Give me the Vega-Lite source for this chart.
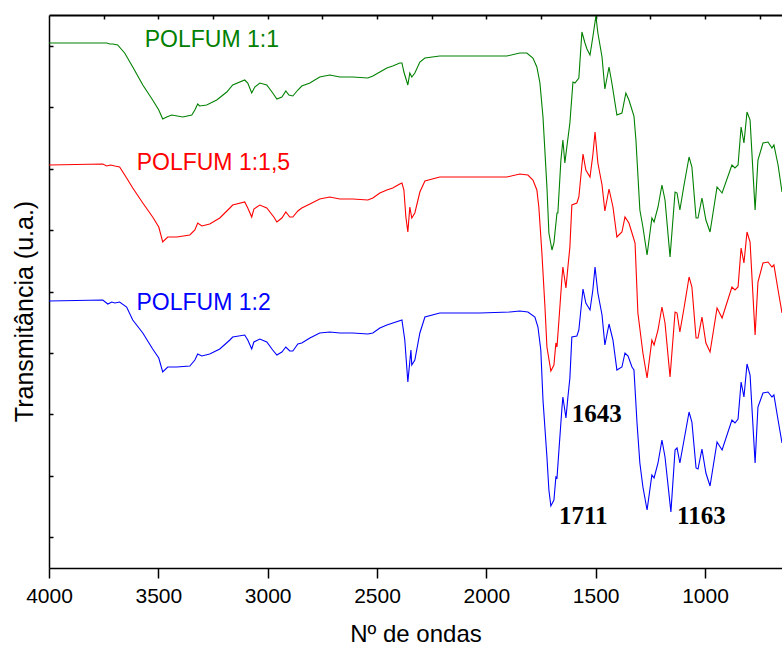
{
  "$schema": "https://vega.github.io/schema/vega-lite/v6.json",
  "width": 733,
  "height": 553,
  "autosize": "none",
  "padding": {"left": 49, "top": 15, "right": 0, "bottom": 79},
  "background": "white",
  "config": {
    "view": {"stroke": null},
    "font": "Liberation Sans",
    "axis": {"domainColor": "black", "tickColor": "black", "labelColor": "black", "titleColor": "black", "grid": false, "domainWidth": 1.5, "tickWidth": 1.5}
  },
  "datasets": {
    "spectra": [
      {"s":"POLFUM 1:1","w":4000,"t":525},{"s":"POLFUM 1:1","w":3754,"t":525},{"s":"POLFUM 1:1","w":3736,"t":525},{"s":"POLFUM 1:1","w":3722,"t":524},{"s":"POLFUM 1:1","w":3709,"t":524},{"s":"POLFUM 1:1","w":3686,"t":523},{"s":"POLFUM 1:1","w":3654,"t":515},{"s":"POLFUM 1:1","w":3617,"t":501},{"s":"POLFUM 1:1","w":3571,"t":483},{"s":"POLFUM 1:1","w":3526,"t":468},{"s":"POLFUM 1:1","w":3498,"t":458},{"s":"POLFUM 1:1","w":3480,"t":449},{"s":"POLFUM 1:1","w":3462,"t":451},{"s":"POLFUM 1:1","w":3439,"t":453},{"s":"POLFUM 1:1","w":3388,"t":451},{"s":"POLFUM 1:1","w":3347,"t":453},{"s":"POLFUM 1:1","w":3333,"t":458},{"s":"POLFUM 1:1","w":3320,"t":464},{"s":"POLFUM 1:1","w":3311,"t":462},{"s":"POLFUM 1:1","w":3279,"t":463},{"s":"POLFUM 1:1","w":3233,"t":468},{"s":"POLFUM 1:1","w":3187,"t":476},{"s":"POLFUM 1:1","w":3160,"t":483},{"s":"POLFUM 1:1","w":3105,"t":488},{"s":"POLFUM 1:1","w":3091,"t":485},{"s":"POLFUM 1:1","w":3073,"t":475},{"s":"POLFUM 1:1","w":3059,"t":481},{"s":"POLFUM 1:1","w":3036,"t":485},{"s":"POLFUM 1:1","w":3004,"t":483},{"s":"POLFUM 1:1","w":2977,"t":475},{"s":"POLFUM 1:1","w":2958,"t":469},{"s":"POLFUM 1:1","w":2935,"t":471},{"s":"POLFUM 1:1","w":2917,"t":477},{"s":"POLFUM 1:1","w":2903,"t":473},{"s":"POLFUM 1:1","w":2885,"t":472},{"s":"POLFUM 1:1","w":2862,"t":478},{"s":"POLFUM 1:1","w":2844,"t":482},{"s":"POLFUM 1:1","w":2807,"t":485},{"s":"POLFUM 1:1","w":2762,"t":491},{"s":"POLFUM 1:1","w":2716,"t":493},{"s":"POLFUM 1:1","w":2670,"t":491},{"s":"POLFUM 1:1","w":2611,"t":491},{"s":"POLFUM 1:1","w":2542,"t":490},{"s":"POLFUM 1:1","w":2519,"t":492},{"s":"POLFUM 1:1","w":2487,"t":496},{"s":"POLFUM 1:1","w":2455,"t":500},{"s":"POLFUM 1:1","w":2428,"t":502},{"s":"POLFUM 1:1","w":2396,"t":505},{"s":"POLFUM 1:1","w":2386,"t":505},{"s":"POLFUM 1:1","w":2377,"t":496},{"s":"POLFUM 1:1","w":2359,"t":483},{"s":"POLFUM 1:1","w":2350,"t":495},{"s":"POLFUM 1:1","w":2341,"t":491},{"s":"POLFUM 1:1","w":2327,"t":495},{"s":"POLFUM 1:1","w":2304,"t":506},{"s":"POLFUM 1:1","w":2281,"t":510},{"s":"POLFUM 1:1","w":2213,"t":512},{"s":"POLFUM 1:1","w":2030,"t":512},{"s":"POLFUM 1:1","w":1906,"t":512},{"s":"POLFUM 1:1","w":1847,"t":515},{"s":"POLFUM 1:1","w":1815,"t":515},{"s":"POLFUM 1:1","w":1787,"t":510},{"s":"POLFUM 1:1","w":1769,"t":501},{"s":"POLFUM 1:1","w":1755,"t":485},{"s":"POLFUM 1:1","w":1741,"t":451},{"s":"POLFUM 1:1","w":1723,"t":381},{"s":"POLFUM 1:1","w":1714,"t":335},{"s":"POLFUM 1:1","w":1700,"t":318},{"s":"POLFUM 1:1","w":1691,"t":325},{"s":"POLFUM 1:1","w":1677,"t":355},{"s":"POLFUM 1:1","w":1673,"t":355},{"s":"POLFUM 1:1","w":1659,"t":408},{"s":"POLFUM 1:1","w":1650,"t":428},{"s":"POLFUM 1:1","w":1641,"t":405},{"s":"POLFUM 1:1","w":1632,"t":421},{"s":"POLFUM 1:1","w":1618,"t":445},{"s":"POLFUM 1:1","w":1604,"t":486},{"s":"POLFUM 1:1","w":1595,"t":485},{"s":"POLFUM 1:1","w":1577,"t":490},{"s":"POLFUM 1:1","w":1563,"t":536},{"s":"POLFUM 1:1","w":1549,"t":525},{"s":"POLFUM 1:1","w":1540,"t":519},{"s":"POLFUM 1:1","w":1526,"t":513},{"s":"POLFUM 1:1","w":1513,"t":531},{"s":"POLFUM 1:1","w":1499,"t":552},{"s":"POLFUM 1:1","w":1490,"t":535},{"s":"POLFUM 1:1","w":1471,"t":511},{"s":"POLFUM 1:1","w":1458,"t":479},{"s":"POLFUM 1:1","w":1439,"t":501},{"s":"POLFUM 1:1","w":1426,"t":485},{"s":"POLFUM 1:1","w":1403,"t":453},{"s":"POLFUM 1:1","w":1380,"t":455},{"s":"POLFUM 1:1","w":1362,"t":475},{"s":"POLFUM 1:1","w":1348,"t":468},{"s":"POLFUM 1:1","w":1325,"t":452},{"s":"POLFUM 1:1","w":1316,"t":428},{"s":"POLFUM 1:1","w":1298,"t":358},{"s":"POLFUM 1:1","w":1284,"t":341},{"s":"POLFUM 1:1","w":1265,"t":313},{"s":"POLFUM 1:1","w":1243,"t":350},{"s":"POLFUM 1:1","w":1233,"t":346},{"s":"POLFUM 1:1","w":1215,"t":361},{"s":"POLFUM 1:1","w":1197,"t":383},{"s":"POLFUM 1:1","w":1183,"t":368},{"s":"POLFUM 1:1","w":1160,"t":311},{"s":"POLFUM 1:1","w":1137,"t":376},{"s":"POLFUM 1:1","w":1128,"t":375},{"s":"POLFUM 1:1","w":1115,"t":358},{"s":"POLFUM 1:1","w":1096,"t":383},{"s":"POLFUM 1:1","w":1073,"t":411},{"s":"POLFUM 1:1","w":1060,"t":401},{"s":"POLFUM 1:1","w":1041,"t":350},{"s":"POLFUM 1:1","w":1032,"t":350},{"s":"POLFUM 1:1","w":1014,"t":370},{"s":"POLFUM 1:1","w":996,"t":348},{"s":"POLFUM 1:1","w":977,"t":336},{"s":"POLFUM 1:1","w":945,"t":381},{"s":"POLFUM 1:1","w":922,"t":375},{"s":"POLFUM 1:1","w":877,"t":403},{"s":"POLFUM 1:1","w":863,"t":400},{"s":"POLFUM 1:1","w":849,"t":403},{"s":"POLFUM 1:1","w":835,"t":441},{"s":"POLFUM 1:1","w":822,"t":425},{"s":"POLFUM 1:1","w":808,"t":456},{"s":"POLFUM 1:1","w":794,"t":448},{"s":"POLFUM 1:1","w":771,"t":358},{"s":"POLFUM 1:1","w":758,"t":408},{"s":"POLFUM 1:1","w":735,"t":425},{"s":"POLFUM 1:1","w":712,"t":426},{"s":"POLFUM 1:1","w":694,"t":420},{"s":"POLFUM 1:1","w":685,"t":423},{"s":"POLFUM 1:1","w":666,"t":403},{"s":"POLFUM 1:1","w":648,"t":376},

      {"s":"POLFUM 1:1,5","w":4000,"t":403},{"s":"POLFUM 1:1,5","w":3754,"t":404},{"s":"POLFUM 1:1,5","w":3736,"t":402},{"s":"POLFUM 1:1,5","w":3718,"t":403},{"s":"POLFUM 1:1,5","w":3699,"t":402},{"s":"POLFUM 1:1,5","w":3677,"t":401},{"s":"POLFUM 1:1,5","w":3645,"t":390},{"s":"POLFUM 1:1,5","w":3617,"t":380},{"s":"POLFUM 1:1,5","w":3571,"t":365},{"s":"POLFUM 1:1,5","w":3526,"t":351},{"s":"POLFUM 1:1,5","w":3498,"t":341},{"s":"POLFUM 1:1,5","w":3480,"t":326},{"s":"POLFUM 1:1,5","w":3457,"t":331},{"s":"POLFUM 1:1,5","w":3416,"t":331},{"s":"POLFUM 1:1,5","w":3356,"t":333},{"s":"POLFUM 1:1,5","w":3333,"t":338},{"s":"POLFUM 1:1,5","w":3320,"t":345},{"s":"POLFUM 1:1,5","w":3301,"t":342},{"s":"POLFUM 1:1,5","w":3265,"t":344},{"s":"POLFUM 1:1,5","w":3219,"t":350},{"s":"POLFUM 1:1,5","w":3173,"t":360},{"s":"POLFUM 1:1,5","w":3160,"t":363},{"s":"POLFUM 1:1,5","w":3105,"t":366},{"s":"POLFUM 1:1,5","w":3091,"t":360},{"s":"POLFUM 1:1,5","w":3073,"t":351},{"s":"POLFUM 1:1,5","w":3063,"t":359},{"s":"POLFUM 1:1,5","w":3036,"t":363},{"s":"POLFUM 1:1,5","w":3004,"t":360},{"s":"POLFUM 1:1,5","w":2972,"t":351},{"s":"POLFUM 1:1,5","w":2958,"t":346},{"s":"POLFUM 1:1,5","w":2935,"t":350},{"s":"POLFUM 1:1,5","w":2917,"t":356},{"s":"POLFUM 1:1,5","w":2899,"t":351},{"s":"POLFUM 1:1,5","w":2885,"t":351},{"s":"POLFUM 1:1,5","w":2862,"t":357},{"s":"POLFUM 1:1,5","w":2844,"t":360},{"s":"POLFUM 1:1,5","w":2807,"t":364},{"s":"POLFUM 1:1,5","w":2762,"t":369},{"s":"POLFUM 1:1,5","w":2716,"t":371},{"s":"POLFUM 1:1,5","w":2670,"t":369},{"s":"POLFUM 1:1,5","w":2611,"t":369},{"s":"POLFUM 1:1,5","w":2542,"t":368},{"s":"POLFUM 1:1,5","w":2519,"t":370},{"s":"POLFUM 1:1,5","w":2487,"t":375},{"s":"POLFUM 1:1,5","w":2455,"t":378},{"s":"POLFUM 1:1,5","w":2428,"t":380},{"s":"POLFUM 1:1,5","w":2396,"t":384},{"s":"POLFUM 1:1,5","w":2386,"t":385},{"s":"POLFUM 1:1,5","w":2377,"t":378},{"s":"POLFUM 1:1,5","w":2368,"t":351},{"s":"POLFUM 1:1,5","w":2359,"t":336},{"s":"POLFUM 1:1,5","w":2350,"t":361},{"s":"POLFUM 1:1,5","w":2341,"t":350},{"s":"POLFUM 1:1,5","w":2327,"t":355},{"s":"POLFUM 1:1,5","w":2304,"t":376},{"s":"POLFUM 1:1,5","w":2281,"t":387},{"s":"POLFUM 1:1,5","w":2213,"t":391},{"s":"POLFUM 1:1,5","w":2030,"t":391},{"s":"POLFUM 1:1,5","w":1906,"t":391},{"s":"POLFUM 1:1,5","w":1847,"t":394},{"s":"POLFUM 1:1,5","w":1810,"t":393},{"s":"POLFUM 1:1,5","w":1787,"t":388},{"s":"POLFUM 1:1,5","w":1769,"t":378},{"s":"POLFUM 1:1,5","w":1760,"t":361},{"s":"POLFUM 1:1,5","w":1746,"t":315},{"s":"POLFUM 1:1,5","w":1732,"t":261},{"s":"POLFUM 1:1,5","w":1723,"t":221},{"s":"POLFUM 1:1,5","w":1705,"t":197},{"s":"POLFUM 1:1,5","w":1691,"t":203},{"s":"POLFUM 1:1,5","w":1682,"t":225},{"s":"POLFUM 1:1,5","w":1677,"t":221},{"s":"POLFUM 1:1,5","w":1668,"t":248},{"s":"POLFUM 1:1,5","w":1654,"t":291},{"s":"POLFUM 1:1,5","w":1650,"t":301},{"s":"POLFUM 1:1,5","w":1636,"t":280},{"s":"POLFUM 1:1,5","w":1627,"t":301},{"s":"POLFUM 1:1,5","w":1618,"t":321},{"s":"POLFUM 1:1,5","w":1609,"t":363},{"s":"POLFUM 1:1,5","w":1586,"t":365},{"s":"POLFUM 1:1,5","w":1577,"t":371},{"s":"POLFUM 1:1,5","w":1558,"t":414},{"s":"POLFUM 1:1,5","w":1545,"t":398},{"s":"POLFUM 1:1,5","w":1526,"t":391},{"s":"POLFUM 1:1,5","w":1513,"t":413},{"s":"POLFUM 1:1,5","w":1503,"t":436},{"s":"POLFUM 1:1,5","w":1490,"t":405},{"s":"POLFUM 1:1,5","w":1471,"t":383},{"s":"POLFUM 1:1,5","w":1458,"t":357},{"s":"POLFUM 1:1,5","w":1439,"t":379},{"s":"POLFUM 1:1,5","w":1421,"t":361},{"s":"POLFUM 1:1,5","w":1403,"t":331},{"s":"POLFUM 1:1,5","w":1380,"t":336},{"s":"POLFUM 1:1,5","w":1366,"t":351},{"s":"POLFUM 1:1,5","w":1348,"t":345},{"s":"POLFUM 1:1,5","w":1334,"t":335},{"s":"POLFUM 1:1,5","w":1320,"t":325},{"s":"POLFUM 1:1,5","w":1307,"t":255},{"s":"POLFUM 1:1,5","w":1284,"t":215},{"s":"POLFUM 1:1,5","w":1265,"t":190},{"s":"POLFUM 1:1,5","w":1243,"t":228},{"s":"POLFUM 1:1,5","w":1233,"t":223},{"s":"POLFUM 1:1,5","w":1215,"t":238},{"s":"POLFUM 1:1,5","w":1197,"t":261},{"s":"POLFUM 1:1,5","w":1183,"t":245},{"s":"POLFUM 1:1,5","w":1160,"t":191},{"s":"POLFUM 1:1,5","w":1137,"t":256},{"s":"POLFUM 1:1,5","w":1128,"t":255},{"s":"POLFUM 1:1,5","w":1115,"t":236},{"s":"POLFUM 1:1,5","w":1096,"t":260},{"s":"POLFUM 1:1,5","w":1073,"t":291},{"s":"POLFUM 1:1,5","w":1060,"t":281},{"s":"POLFUM 1:1,5","w":1041,"t":230},{"s":"POLFUM 1:1,5","w":1032,"t":230},{"s":"POLFUM 1:1,5","w":1014,"t":251},{"s":"POLFUM 1:1,5","w":996,"t":225},{"s":"POLFUM 1:1,5","w":977,"t":216},{"s":"POLFUM 1:1,5","w":945,"t":260},{"s":"POLFUM 1:1,5","w":922,"t":250},{"s":"POLFUM 1:1,5","w":877,"t":281},{"s":"POLFUM 1:1,5","w":863,"t":278},{"s":"POLFUM 1:1,5","w":849,"t":281},{"s":"POLFUM 1:1,5","w":835,"t":320},{"s":"POLFUM 1:1,5","w":822,"t":305},{"s":"POLFUM 1:1,5","w":808,"t":336},{"s":"POLFUM 1:1,5","w":794,"t":326},{"s":"POLFUM 1:1,5","w":771,"t":233},{"s":"POLFUM 1:1,5","w":758,"t":286},{"s":"POLFUM 1:1,5","w":735,"t":305},{"s":"POLFUM 1:1,5","w":712,"t":306},{"s":"POLFUM 1:1,5","w":694,"t":301},{"s":"POLFUM 1:1,5","w":685,"t":303},{"s":"POLFUM 1:1,5","w":666,"t":278},{"s":"POLFUM 1:1,5","w":648,"t":255},

      {"s":"POLFUM 1:2","w":4000,"t":267},{"s":"POLFUM 1:2","w":3754,"t":268},{"s":"POLFUM 1:2","w":3731,"t":264},{"s":"POLFUM 1:2","w":3713,"t":266},{"s":"POLFUM 1:2","w":3699,"t":265},{"s":"POLFUM 1:2","w":3677,"t":266},{"s":"POLFUM 1:2","w":3645,"t":261},{"s":"POLFUM 1:2","w":3617,"t":248},{"s":"POLFUM 1:2","w":3571,"t":235},{"s":"POLFUM 1:2","w":3526,"t":219},{"s":"POLFUM 1:2","w":3498,"t":210},{"s":"POLFUM 1:2","w":3480,"t":196},{"s":"POLFUM 1:2","w":3457,"t":201},{"s":"POLFUM 1:2","w":3416,"t":201},{"s":"POLFUM 1:2","w":3356,"t":202},{"s":"POLFUM 1:2","w":3333,"t":208},{"s":"POLFUM 1:2","w":3320,"t":214},{"s":"POLFUM 1:2","w":3301,"t":212},{"s":"POLFUM 1:2","w":3265,"t":214},{"s":"POLFUM 1:2","w":3219,"t":219},{"s":"POLFUM 1:2","w":3173,"t":228},{"s":"POLFUM 1:2","w":3160,"t":231},{"s":"POLFUM 1:2","w":3105,"t":233},{"s":"POLFUM 1:2","w":3091,"t":228},{"s":"POLFUM 1:2","w":3073,"t":219},{"s":"POLFUM 1:2","w":3063,"t":226},{"s":"POLFUM 1:2","w":3036,"t":229},{"s":"POLFUM 1:2","w":3004,"t":226},{"s":"POLFUM 1:2","w":2977,"t":218},{"s":"POLFUM 1:2","w":2958,"t":213},{"s":"POLFUM 1:2","w":2935,"t":216},{"s":"POLFUM 1:2","w":2917,"t":221},{"s":"POLFUM 1:2","w":2899,"t":217},{"s":"POLFUM 1:2","w":2885,"t":217},{"s":"POLFUM 1:2","w":2862,"t":224},{"s":"POLFUM 1:2","w":2844,"t":225},{"s":"POLFUM 1:2","w":2807,"t":230},{"s":"POLFUM 1:2","w":2762,"t":235},{"s":"POLFUM 1:2","w":2716,"t":236},{"s":"POLFUM 1:2","w":2670,"t":235},{"s":"POLFUM 1:2","w":2611,"t":235},{"s":"POLFUM 1:2","w":2542,"t":234},{"s":"POLFUM 1:2","w":2519,"t":235},{"s":"POLFUM 1:2","w":2487,"t":240},{"s":"POLFUM 1:2","w":2455,"t":243},{"s":"POLFUM 1:2","w":2386,"t":248},{"s":"POLFUM 1:2","w":2373,"t":228},{"s":"POLFUM 1:2","w":2359,"t":186},{"s":"POLFUM 1:2","w":2345,"t":218},{"s":"POLFUM 1:2","w":2341,"t":203},{"s":"POLFUM 1:2","w":2327,"t":208},{"s":"POLFUM 1:2","w":2304,"t":235},{"s":"POLFUM 1:2","w":2281,"t":251},{"s":"POLFUM 1:2","w":2213,"t":255},{"s":"POLFUM 1:2","w":2030,"t":255},{"s":"POLFUM 1:2","w":1892,"t":256},{"s":"POLFUM 1:2","w":1847,"t":257},{"s":"POLFUM 1:2","w":1810,"t":256},{"s":"POLFUM 1:2","w":1778,"t":251},{"s":"POLFUM 1:2","w":1764,"t":241},{"s":"POLFUM 1:2","w":1751,"t":218},{"s":"POLFUM 1:2","w":1741,"t":168},{"s":"POLFUM 1:2","w":1723,"t":111},{"s":"POLFUM 1:2","w":1714,"t":78},{"s":"POLFUM 1:2","w":1705,"t":62},{"s":"POLFUM 1:2","w":1691,"t":68},{"s":"POLFUM 1:2","w":1682,"t":91},{"s":"POLFUM 1:2","w":1677,"t":90},{"s":"POLFUM 1:2","w":1668,"t":118},{"s":"POLFUM 1:2","w":1654,"t":161},{"s":"POLFUM 1:2","w":1650,"t":171},{"s":"POLFUM 1:2","w":1636,"t":150},{"s":"POLFUM 1:2","w":1627,"t":171},{"s":"POLFUM 1:2","w":1618,"t":190},{"s":"POLFUM 1:2","w":1609,"t":231},{"s":"POLFUM 1:2","w":1586,"t":232},{"s":"POLFUM 1:2","w":1577,"t":238},{"s":"POLFUM 1:2","w":1558,"t":279},{"s":"POLFUM 1:2","w":1545,"t":265},{"s":"POLFUM 1:2","w":1526,"t":258},{"s":"POLFUM 1:2","w":1513,"t":278},{"s":"POLFUM 1:2","w":1503,"t":301},{"s":"POLFUM 1:2","w":1490,"t":275},{"s":"POLFUM 1:2","w":1471,"t":253},{"s":"POLFUM 1:2","w":1458,"t":223},{"s":"POLFUM 1:2","w":1439,"t":244},{"s":"POLFUM 1:2","w":1421,"t":228},{"s":"POLFUM 1:2","w":1403,"t":198},{"s":"POLFUM 1:2","w":1380,"t":201},{"s":"POLFUM 1:2","w":1366,"t":215},{"s":"POLFUM 1:2","w":1352,"t":212},{"s":"POLFUM 1:2","w":1334,"t":201},{"s":"POLFUM 1:2","w":1325,"t":198},{"s":"POLFUM 1:2","w":1311,"t":145},{"s":"POLFUM 1:2","w":1298,"t":105},{"s":"POLFUM 1:2","w":1284,"t":81},{"s":"POLFUM 1:2","w":1265,"t":58},{"s":"POLFUM 1:2","w":1243,"t":93},{"s":"POLFUM 1:2","w":1233,"t":90},{"s":"POLFUM 1:2","w":1215,"t":105},{"s":"POLFUM 1:2","w":1197,"t":128},{"s":"POLFUM 1:2","w":1183,"t":111},{"s":"POLFUM 1:2","w":1156,"t":56},{"s":"POLFUM 1:2","w":1137,"t":118},{"s":"POLFUM 1:2","w":1128,"t":120},{"s":"POLFUM 1:2","w":1115,"t":105},{"s":"POLFUM 1:2","w":1096,"t":128},{"s":"POLFUM 1:2","w":1073,"t":156},{"s":"POLFUM 1:2","w":1060,"t":146},{"s":"POLFUM 1:2","w":1041,"t":100},{"s":"POLFUM 1:2","w":1032,"t":99},{"s":"POLFUM 1:2","w":1014,"t":119},{"s":"POLFUM 1:2","w":996,"t":95},{"s":"POLFUM 1:2","w":977,"t":82},{"s":"POLFUM 1:2","w":945,"t":126},{"s":"POLFUM 1:2","w":922,"t":118},{"s":"POLFUM 1:2","w":877,"t":148},{"s":"POLFUM 1:2","w":863,"t":145},{"s":"POLFUM 1:2","w":849,"t":149},{"s":"POLFUM 1:2","w":835,"t":186},{"s":"POLFUM 1:2","w":822,"t":171},{"s":"POLFUM 1:2","w":808,"t":204},{"s":"POLFUM 1:2","w":794,"t":193},{"s":"POLFUM 1:2","w":771,"t":105},{"s":"POLFUM 1:2","w":758,"t":161},{"s":"POLFUM 1:2","w":735,"t":175},{"s":"POLFUM 1:2","w":712,"t":176},{"s":"POLFUM 1:2","w":694,"t":171},{"s":"POLFUM 1:2","w":685,"t":173},{"s":"POLFUM 1:2","w":666,"t":148},{"s":"POLFUM 1:2","w":648,"t":125}
    ],
    "names": [
      {"s":"POLFUM 1:1","w":3562,"t":528},
      {"s":"POLFUM 1:1,5","w":3599,"t":405},
      {"s":"POLFUM 1:2","w":3600,"t":265}
    ],
    "bands": [
      {"n":"1643","w":1609,"t":154},
      {"n":"1711","w":1668,"t":52},
      {"n":"1163","w":1128,"t":52}
    ]
  },
  "layer": [
    {
      "data": {"name": "spectra"},
      "mark": {"type": "line", "strokeWidth": 1.1, "clip": true, "interpolate": "linear"},
      "encoding": {
        "x": {
          "field": "w", "type": "quantitative",
          "scale": {"domain": [4000, 648], "nice": false, "zero": false},
          "axis": {
            "orient": "bottom",
            "values": [4000, 3500, 3000, 2500, 2000, 1500, 1000],
            "format": "d",
            "labelFontSize": 21, "labelFont": "Liberation Sans", "labelPadding": 7, "labelFlush": false,
            "tickSize": 10,
            "title": "Nº de ondas", "titleFontSize": 24, "titleFontWeight": "normal", "titleFont": "Liberation Sans",
            "titleY": 73, "titleBaseline": "alphabetic"
          }
        },
        "y": {
          "field": "t", "type": "quantitative",
          "scale": {"domain": [0, 553], "nice": false, "zero": false},
          "axis": {
            "orient": "left",
            "values": [30.7, 61.4, 92.2, 122.9, 153.6, 184.3, 215.0, 245.8, 276.5, 307.2, 337.9, 368.6, 399.4, 430.1, 460.8, 491.5, 522.2],
            "labels": false, "tickSize": -4,
            "title": "Transmitância (u.a.)", "titleFontSize": 25, "titleFontWeight": "normal", "titleFont": "Liberation Sans",
            "titlePadding": 11, "titleY": 296
          }
        },
        "color": {
          "field": "s", "type": "nominal",
          "scale": {"domain": ["POLFUM 1:1", "POLFUM 1:1,5", "POLFUM 1:2"], "range": ["#008000", "#ff0000", "#0000ff"]},
          "legend": null
        }
      }
    },
    {
      "data": {"name": "names"},
      "mark": {"type": "text", "align": "left", "baseline": "middle", "font": "Liberation Sans", "fontSize": 23},
      "encoding": {
        "x": {
          "field": "w", "type": "quantitative",
          "axis": {"orient": "top", "values": [3750, 3500, 3250, 3000, 2750, 2500, 2250, 2000, 1750, 1500, 1250, 1000, 750], "labels": false, "tickSize": -4, "domainWidth": 2, "title": null}
        },
        "y": {"field": "t", "type": "quantitative"},
        "text": {"field": "s"},
        "color": {"field": "s", "type": "nominal", "legend": null}
      }
    },
    {
      "data": {"name": "bands"},
      "mark": {"type": "text", "align": "left", "baseline": "middle", "font": "Liberation Serif", "fontWeight": "bold", "fontSize": 25, "color": "black"},
      "encoding": {
        "x": {"field": "w", "type": "quantitative", "axis": null},
        "y": {"field": "t", "type": "quantitative"},
        "text": {"field": "n"}
      }
    }
  ],
  "resolve": {"axis": {"x": "independent"}}
}
